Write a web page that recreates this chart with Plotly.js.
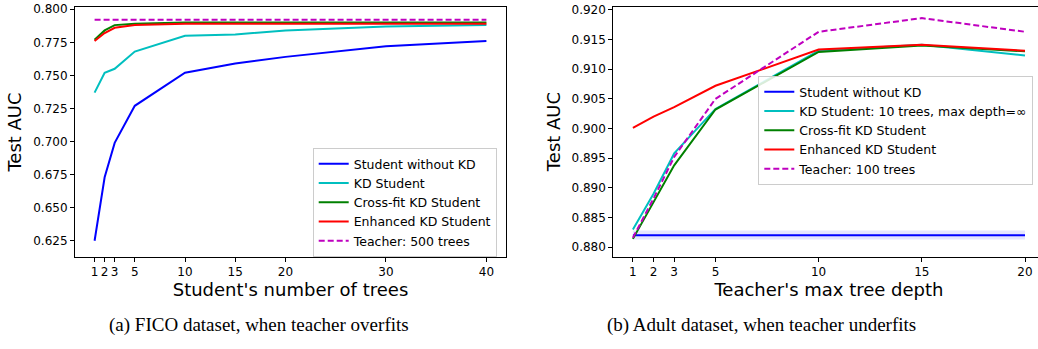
<!DOCTYPE html>
<html>
<head>
<meta charset="utf-8">
<script src="https://cdn.plot.ly/plotly-3.0.1.min.js"></script>
<style>
html,body{margin:0;padding:0;overflow:hidden;background:#fff;}
#chart{width:1050px;height:349px;}
</style>
</head>
<body>
<div id="chart"></div>
<script>
// ---- FICO (a) ----
const ficoTrees = [1, 2, 3, 5, 10, 15, 20, 30, 40];
const ficoNoKD = [0.625, 0.673, 0.699, 0.727, 0.752, 0.759, 0.764, 0.772, 0.776];
const ficoKD = [0.737, 0.752, 0.755, 0.768, 0.780, 0.781, 0.784, 0.787, 0.788];
const ficoCross = [0.777, 0.784, 0.788, 0.789, 0.790, 0.790, 0.790, 0.790, 0.790];
const ficoEnh = [0.776, 0.782, 0.786, 0.788, 0.789, 0.789, 0.789, 0.789, 0.789];
const ficoTeacher = [0.792, 0.792, 0.792, 0.792, 0.792, 0.792, 0.792, 0.792, 0.792];
const ficoTickVals = [1, 2, 3, 5, 10, 15, 20, 30, 40];
const ficoYTicks = [0.625, 0.650, 0.675, 0.700, 0.725, 0.750, 0.775, 0.800];

// ---- Adult (b) ----
const adultDepth = [1, 2, 3, 5, 10, 15, 20];
const adultNoKD = [0.882, 0.882, 0.882, 0.882, 0.882, 0.882, 0.882];
const adultNoKDLow = [0.8813, 0.8813, 0.8813, 0.8813, 0.8813, 0.8813, 0.8813];
const adultNoKDHigh = [0.8828, 0.8828, 0.8828, 0.8828, 0.8828, 0.8828, 0.8828];
const adultKD = [0.8830, 0.8890, 0.8958, 0.9033, 0.9131, 0.9141, 0.9123];
const adultCross = [0.8814, 0.8876, 0.8938, 0.9032, 0.9129, 0.9140, 0.9130];
const adultEnh = [0.9001, 0.9020, 0.9036, 0.9072, 0.9133, 0.9141, 0.9131];
const adultTeacher = [0.8816, 0.8882, 0.8952, 0.9050, 0.9163, 0.9186, 0.9163];
const adultTickVals = [1, 2, 3, 5, 10, 15, 20];
const adultYTicks = [0.880, 0.885, 0.890, 0.895, 0.900, 0.905, 0.910, 0.915, 0.920];

const W = 1050, H = 349;
const px = v => v / W, py = v => 1 - v / H;

const BLUE = '#0000ff', CYAN = '#00bfbf', GREEN = '#008000', RED = '#ff0000', MAG = '#bf00bf';
const LW = 2;

const traces = [
  {x: ficoTrees, y: ficoNoKD, name: 'Student without KD', mode: 'lines', line: {color: BLUE, width: LW}, xaxis: 'x', yaxis: 'y', legend: 'legend'},
  {x: ficoTrees, y: ficoKD, name: 'KD Student', mode: 'lines', line: {color: CYAN, width: LW}, xaxis: 'x', yaxis: 'y', legend: 'legend'},
  {x: ficoTrees, y: ficoCross, name: 'Cross-fit KD Student', mode: 'lines', line: {color: GREEN, width: LW}, xaxis: 'x', yaxis: 'y', legend: 'legend'},
  {x: ficoTrees, y: ficoEnh, name: 'Enhanced KD Student', mode: 'lines', line: {color: RED, width: LW}, xaxis: 'x', yaxis: 'y', legend: 'legend'},
  {x: ficoTrees, y: ficoTeacher, name: 'Teacher: 500 trees', mode: 'lines', line: {color: MAG, width: LW, dash: '6px,3px'}, xaxis: 'x', yaxis: 'y', legend: 'legend'},

  {x: adultDepth, y: adultNoKDLow, mode: 'lines', line: {width: 0}, showlegend: false, hoverinfo: 'skip', xaxis: 'x2', yaxis: 'y2', legend: 'legend2'},
  {x: adultDepth, y: adultNoKDHigh, mode: 'lines', line: {width: 0}, fill: 'tonexty', fillcolor: 'rgba(0,0,255,0.1)', showlegend: false, hoverinfo: 'skip', xaxis: 'x2', yaxis: 'y2', legend: 'legend2'},
  {x: adultDepth, y: adultNoKD, name: 'Student without KD', mode: 'lines', line: {color: BLUE, width: LW}, xaxis: 'x2', yaxis: 'y2', legend: 'legend2'},
  {x: adultDepth, y: adultKD, name: 'KD Student: 10 trees, max depth=∞', mode: 'lines', line: {color: CYAN, width: LW}, xaxis: 'x2', yaxis: 'y2', legend: 'legend2'},
  {x: adultDepth, y: adultCross, name: 'Cross-fit KD Student', mode: 'lines', line: {color: GREEN, width: LW}, xaxis: 'x2', yaxis: 'y2', legend: 'legend2'},
  {x: adultDepth, y: adultEnh, name: 'Enhanced KD Student', mode: 'lines', line: {color: RED, width: LW}, xaxis: 'x2', yaxis: 'y2', legend: 'legend2'},
  {x: adultDepth, y: adultTeacher, name: 'Teacher: 100 trees', mode: 'lines', line: {color: MAG, width: LW, dash: '6px,3px'}, xaxis: 'x2', yaxis: 'y2', legend: 'legend2'}
];

const FONT = 'DejaVu Sans, sans-serif';
const axisCommon = {
  showgrid: false, zeroline: false, showline: true, mirror: true,
  linecolor: '#000', linewidth: 1, ticks: 'outside', ticklen: 4, tickcolor: '#000', tickwidth: 1,
  tickfont: {family: FONT, size: 12, color: '#000'}, automargin: false
};
const legendCommon = {
  bgcolor: 'rgba(255,255,255,0.85)', bordercolor: '#cccccc', borderwidth: 1,
  font: {family: FONT, size: 12.5, color: '#000'}, xanchor: 'left', yanchor: 'top',
  tracegroupgap: 0, itemwidth: 30, traceorder: 'normal'
};

const layout = {
  width: W, height: H,
  margin: {l: 0, r: 0, t: 0, b: 0},
  paper_bgcolor: '#fff', plot_bgcolor: '#fff',
  font: {family: FONT, color: '#000'},
  xaxis: Object.assign({}, axisCommon, {
    domain: [px(75), px(506)], range: [-0.95, 41.95], anchor: 'y',
    tickvals: ficoTickVals, ticktext: ficoTickVals.map(String),
    title: {text: "Student's number of trees", font: {family: FONT, size: 18, color: '#000'}, standoff: 3}
  }),
  yaxis: Object.assign({}, axisCommon, {
    domain: [py(257), py(7)], range: [0.6127, 0.8017], anchor: 'x',
    tickvals: ficoYTicks, ticktext: ficoYTicks.map(v => v.toFixed(3)),
    title: {text: 'Test AUC', font: {family: FONT, size: 18, color: '#000'}, standoff: 6}
  }),
  xaxis2: Object.assign({}, axisCommon, {
    domain: [px(613.3), px(1044.6)], range: [0.05, 20.95], anchor: 'y2',
    tickvals: adultTickVals, ticktext: adultTickVals.map(String),
    title: {text: "Teacher's max tree depth", font: {family: FONT, size: 18, color: '#000'}, standoff: 3}
  }),
  yaxis2: Object.assign({}, axisCommon, {
    domain: [py(256.5), py(6.5)], range: [0.87843, 0.92056], anchor: 'x2',
    tickvals: adultYTicks, ticktext: adultYTicks.map(v => v.toFixed(3)),
    title: {text: 'Test AUC', font: {family: FONT, size: 18, color: '#000'}, standoff: 6}
  }),
  legend: Object.assign({}, legendCommon, {x: px(312.7), y: py(148)}),
  legend2: Object.assign({}, legendCommon, {x: px(758.3), y: py(76)}),
  annotations: [
    {text: '(a) FICO dataset, when teacher overfits', xref: 'paper', yref: 'paper', x: px(258.5), y: py(325), xanchor: 'center', yanchor: 'middle', showarrow: false, font: {family: 'Liberation Serif, Times New Roman, serif', size: 19, color: '#000'}},
    {text: '(b) Adult dataset, when teacher underfits', xref: 'paper', yref: 'paper', x: px(761.5), y: py(325), xanchor: 'center', yanchor: 'middle', showarrow: false, font: {family: 'Liberation Serif, Times New Roman, serif', size: 19, color: '#000'}}
  ],
  showlegend: true
};

Plotly.newPlot('chart', traces, layout, {staticPlot: true, displayModeBar: false});
</script>
</body>
</html>
